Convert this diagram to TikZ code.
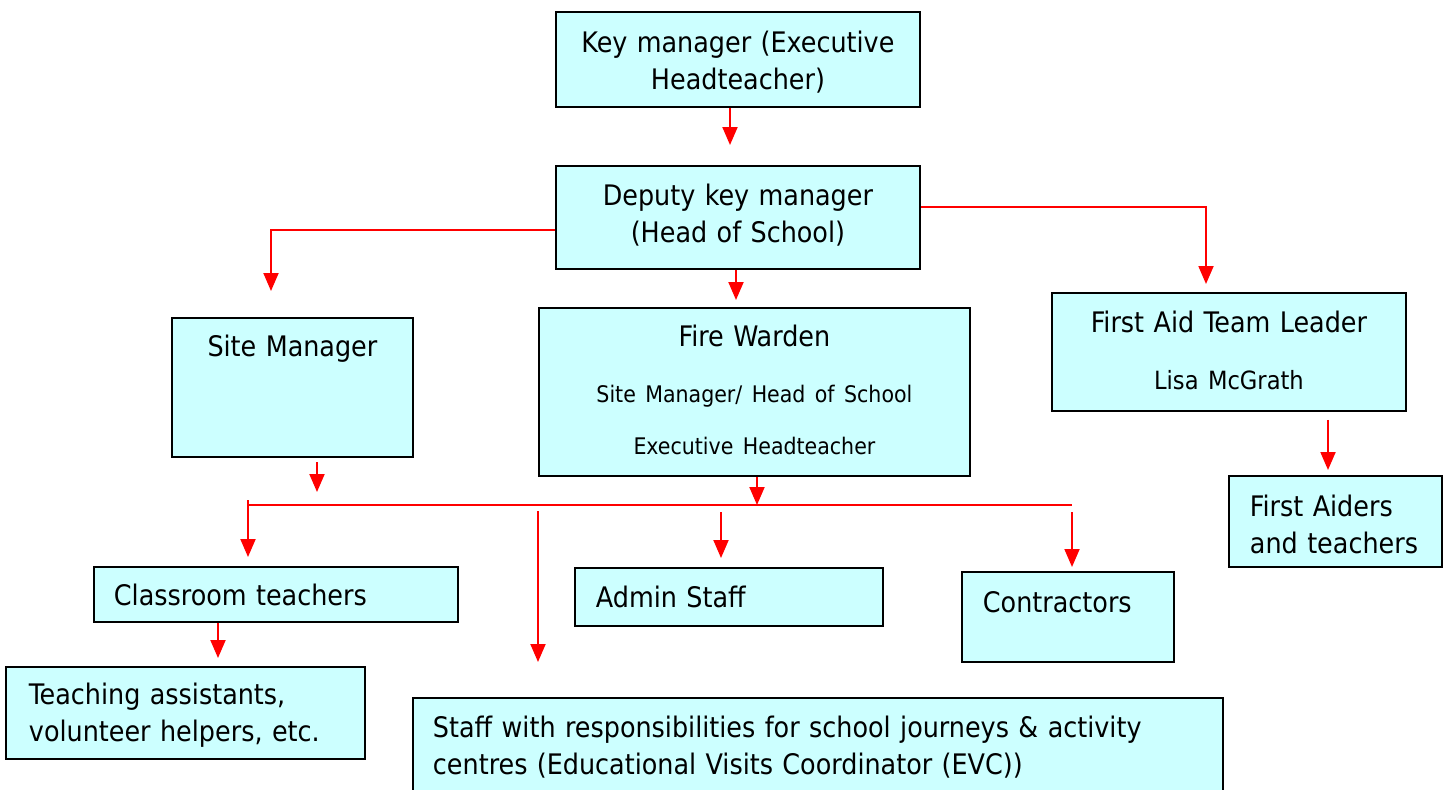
\documentclass[tikz,border=0pt]{standalone}
\usepackage{fontspec}
\setmainfont{DejaVu Sans Condensed}
\usetikzlibrary{arrows.meta}
\definecolor{boxcyan}{HTML}{CCFFFF}
\definecolor{linkred}{HTML}{FF0000}
\newcommand{\smallline}{\fontsize{13}{16}\selectfont}
\newcommand{\nameline}{\fontsize{14.3}{17}\selectfont}
\tikzset{
  orgbox/.style={draw=black,line width=1.1pt,fill=boxcyan,anchor=north west,inner ysep=0pt,font=\fontsize{16.1}{21}\selectfont},
  arr/.style={draw=linkred,line width=1.1pt,-{Triangle[width=0.3cm,length=0.36cm]}},
  link/.style={draw=linkred,line width=1.1pt}
}
\begin{document}
\begin{tikzpicture}[line join=miter,x=0.02cm,y=-0.02cm]
		\useasboundingbox (0,0) rectangle (1446,789);
		\clip (0,0) rectangle (1446,789);
		% boxes
		\node[orgbox,align=center,inner xsep=0pt,text width=7.28cm,text height=0.82cm,text depth=1.08cm] (key) at (555,11) {Key manager (Executive\\Headteacher)};
		\node[orgbox,align=center,inner xsep=0pt,text width=7.28cm,text height=0.8cm,text depth=1.26cm] (deputy) at (555,165) {Deputy key manager\\(Head of School)};
		\node[orgbox,align=center,inner xsep=0pt,text width=4.82cm,text height=0.78cm,text depth=2.0cm] (site) at (171,317) {Site Manager};
		\node[orgbox,align=center,inner xsep=0pt,text width=8.62cm,text height=0.78cm,text depth=2.58cm] (fire) at (538,307) {Fire Warden\\[10.8pt]{\smallline Site Manager/ Head of School}\\[8.5pt]{\smallline Executive Headteacher}};
		\node[orgbox,align=center,inner xsep=0pt,text width=7.08cm,text height=0.8cm,text depth=1.56cm] (firstaid) at (1051,292) {First Aid Team Leader\\[11.3pt]{\nameline Lisa McGrath}};
		\node[orgbox,align=left,inner xsep=0.42cm,text width=3.42cm,text height=0.82cm,text depth=1.0cm] (aiders) at (1228,475) {\mbox{First Aiders}\\\mbox{and teachers}};
		\node[orgbox,align=left,inner xsep=0.4cm,text width=6.48cm,text height=0.78cm,text depth=0.32cm] (class) at (93,566) {Classroom teachers};
		\node[orgbox,align=left,inner xsep=0.46cm,text width=6.26cm,text height=0.76cm,text depth=1.08cm] (assist) at (5,666) {Teaching assistants,\\volunteer helpers, etc.};
		\node[orgbox,align=left,inner xsep=0.42cm,text width=5.32cm,text height=0.8cm,text depth=0.36cm] (admin) at (574,567) {Admin Staff};
		\node[orgbox,align=left,inner xsep=0.42cm,text width=3.4cm,text height=0.82cm,text depth=0.98cm] (contract) at (961,571) {Contractors};
		\node[orgbox,align=left,inner xsep=0.4cm,text width=15.4cm,text height=0.8cm,text depth=1.2cm] (evc) at (412,697) {Staff with responsibilities for school journeys \& activity\\centres (Educational Visits Coordinator (EVC))};
		% arrow ends
		\coordinate (keytip) at (730,145);
		\coordinate (firetip) at (736,300);
		\coordinate (sitetip) at (271,291);
		\coordinate (firstaidtip) at (1206,284);
		\coordinate (sitefrom) at (317,462);
		\coordinate (sitefree) at (317,492);
		\coordinate (bus) at (757,505);
		\coordinate (busL) at (248,505);
		\coordinate (busR) at (1072,505);
		\coordinate (classtip) at (248,557);
		\coordinate (evcfrom) at (538,511);
		\coordinate (evctip) at (538,662);
		\coordinate (adminfrom) at (721,512);
		\coordinate (admintip) at (721,558);
		\coordinate (contracttip) at (1072,567);
		\coordinate (assisttip) at (218,658);
		\coordinate (aiderstip) at (1328,470);
		% connectors
		\draw[arr] (keytip |- key.south) -- (keytip);
		\draw[arr] (firetip |- deputy.south) -- (firetip);
		\draw[arr] ([yshift=-0.25cm]deputy.west) -| (sitetip);
		\draw[arr] ([yshift=0.21cm]deputy.east) -| (firstaidtip);
		\draw[arr] (sitefrom) -- (sitefree);
		\draw[arr] (bus |- fire.south) -- (bus);
		\draw[link] (busL) -- (busR);
		\draw[arr] ([yshift=0.1cm]busL) -- (classtip);
		\draw[arr] (evcfrom) -- (evctip);
		\draw[arr] (adminfrom) -- (admintip);
		\draw[arr] ([yshift=-0.14cm]busR) -- (contracttip);
		\draw[arr] (assisttip |- class.south) -- (assisttip);
		\draw[arr] ([yshift=-0.16cm]aiderstip |- firstaid.south) -- (aiderstip);
\end{tikzpicture}
\end{document}
